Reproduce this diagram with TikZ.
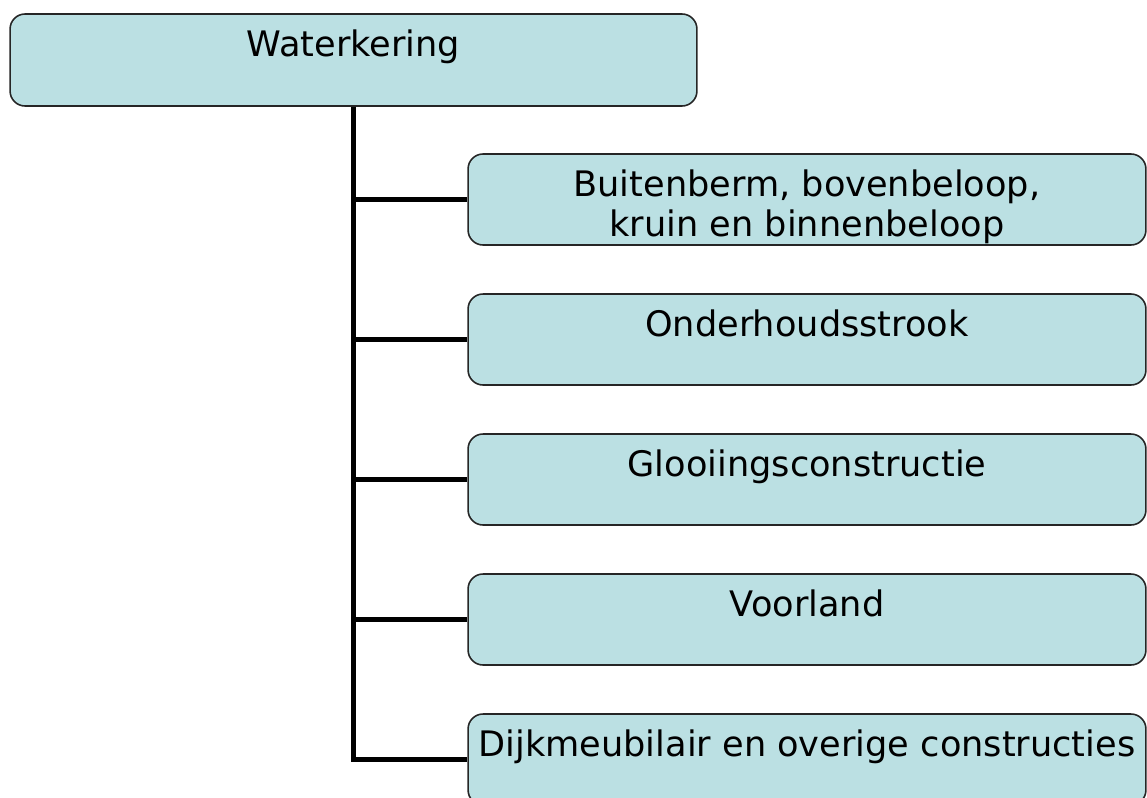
\documentclass[tikz,border=0pt]{standalone}
\usepackage{fontspec}
\setmainfont{DejaVu Sans}
\definecolor{boxblue}{HTML}{BBE0E3}
\begin{document}
\begin{tikzpicture}[x=0.02cm, y=-0.02cm,
	box/.style={draw=black!85, line width=0.9pt, fill=boxblue, rounded corners=0.3cm},
	boxtext/.style={anchor=north, yshift=-0.2cm, align=center, font=\fontsize{20}{23}\selectfont},
	trunk/.style={line width=0.1cm}]
	\useasboundingbox (0,0) rectangle (1147,798);
	\node[box, minimum width=13.74cm, minimum height=1.84cm, label={[boxtext]north:Waterkering}] (water) at (353.5,60) {};
	\foreach \i\t in {1/{Buitenberm, bovenbeloop,\\ kruin en binnenbeloop},2/Onderhoudsstrook,3/Glooiingsconstructie,4/Voorland,5/Dijkmeubilair en overige constructies}{
		\node[box, minimum width=13.56cm, minimum height=1.82cm, label={[boxtext]north:\t}] (part\i) at (807,59.5+140*\i) {};
	}
	\draw[trunk] (water.south) |- (part5.west);
	\foreach \i in {1,...,4}{
		\draw[trunk] (water.south |- part\i.west) -- (part\i.west);
	}
\end{tikzpicture}
\end{document}
